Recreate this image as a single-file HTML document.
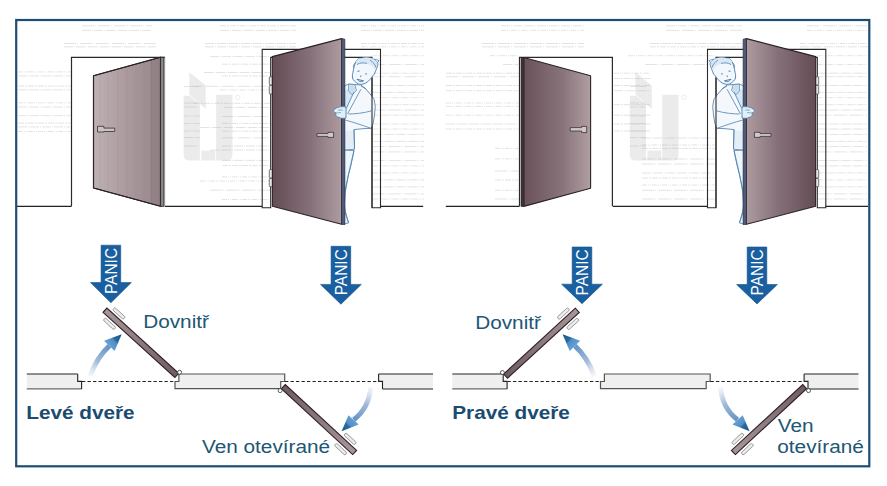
<!DOCTYPE html>
<html><head><meta charset="utf-8"><title>Panic doors</title>
<style>html,body{margin:0;padding:0;background:#fff;width:887px;height:486px;overflow:hidden;font-family:"Liberation Sans",sans-serif}svg{display:block}</style>
</head><body>
<svg width="887" height="486" viewBox="0 0 887 486">
<defs>
<linearGradient id="d1" x1="0" x2="1" y1="0" y2="0">
 <stop offset="0" stop-color="#beb1b3"/><stop offset="0.5" stop-color="#ab9a9d"/><stop offset="1" stop-color="#978589"/>
</linearGradient>
<linearGradient id="dDarkL" x1="0" x2="1" y1="0" y2="0">
 <stop offset="0" stop-color="#654c55"/><stop offset="0.55" stop-color="#85707a"/><stop offset="1" stop-color="#ae9b9f"/>
</linearGradient>
<linearGradient id="dDarkR" x1="1" x2="0" y1="0" y2="0">
 <stop offset="0" stop-color="#654c55"/><stop offset="0.55" stop-color="#85707a"/><stop offset="1" stop-color="#ae9b9f"/>
</linearGradient>
<linearGradient id="d3" x1="0" x2="1" y1="0" y2="0">
 <stop offset="0" stop-color="#6a5159"/><stop offset="0.6" stop-color="#8a757c"/><stop offset="1" stop-color="#b09fa3"/>
</linearGradient>
<clipPath id="cp1"><polygon points="93.5,75.7 160.5,57.3 160.5,206.3 93.5,188"/></clipPath><linearGradient id="lf1" gradientUnits="userSpaceOnUse" x1="105" y1="310.2" x2="176.8" y2="375.4"><stop offset="0" stop-color="#a99699"/><stop offset="1" stop-color="#6f5b61"/></linearGradient><linearGradient id="lf2" gradientUnits="userSpaceOnUse" x1="354.6" y1="452.5" x2="283.3" y2="386.6"><stop offset="0" stop-color="#a99699"/><stop offset="1" stop-color="#6f5b61"/></linearGradient><linearGradient id="lf3" gradientUnits="userSpaceOnUse" x1="577.3" y1="310.3" x2="505.6" y2="376.2"><stop offset="0" stop-color="#a99699"/><stop offset="1" stop-color="#6f5b61"/></linearGradient><linearGradient id="lf4" gradientUnits="userSpaceOnUse" x1="733.4" y1="452.5" x2="804.7" y2="386.6"><stop offset="0" stop-color="#a99699"/><stop offset="1" stop-color="#6f5b61"/></linearGradient><linearGradient id="ca5" gradientUnits="userSpaceOnUse" x1="90" y1="376" x2="109.4" y2="345.8"><stop offset="0" stop-color="#c9d6e6" stop-opacity="0.2"/><stop offset="0.45" stop-color="#a3bcd8"/><stop offset="1" stop-color="#6393c4"/></linearGradient><linearGradient id="ch5" gradientUnits="userSpaceOnUse" x1="109.4" y1="345.8" x2="121.7" y2="334.3"><stop offset="0" stop-color="#64a0d4"/><stop offset="0.4" stop-color="#4f8ec6"/><stop offset="0.5" stop-color="#2b6a9e"/><stop offset="1" stop-color="#1a5588"/></linearGradient><linearGradient id="ca6" gradientUnits="userSpaceOnUse" x1="370.7" y1="387.4" x2="353.7" y2="419.8"><stop offset="0" stop-color="#c9d6e6" stop-opacity="0.2"/><stop offset="0.45" stop-color="#a3bcd8"/><stop offset="1" stop-color="#6393c4"/></linearGradient><linearGradient id="ch6" gradientUnits="userSpaceOnUse" x1="353.7" y1="419.8" x2="341.6" y2="431.2"><stop offset="0" stop-color="#64a0d4"/><stop offset="0.4" stop-color="#4f8ec6"/><stop offset="0.5" stop-color="#2b6a9e"/><stop offset="1" stop-color="#1a5588"/></linearGradient><linearGradient id="ca7" gradientUnits="userSpaceOnUse" x1="594.3" y1="376" x2="574.9" y2="345.8"><stop offset="0" stop-color="#c9d6e6" stop-opacity="0.2"/><stop offset="0.45" stop-color="#a3bcd8"/><stop offset="1" stop-color="#6393c4"/></linearGradient><linearGradient id="ch7" gradientUnits="userSpaceOnUse" x1="574.9" y1="345.8" x2="562.6" y2="334.3"><stop offset="0" stop-color="#64a0d4"/><stop offset="0.4" stop-color="#4f8ec6"/><stop offset="0.5" stop-color="#2b6a9e"/><stop offset="1" stop-color="#1a5588"/></linearGradient><linearGradient id="ca8" gradientUnits="userSpaceOnUse" x1="720.5" y1="387.4" x2="737.5" y2="419.8"><stop offset="0" stop-color="#c9d6e6" stop-opacity="0.2"/><stop offset="0.45" stop-color="#a3bcd8"/><stop offset="1" stop-color="#6393c4"/></linearGradient><linearGradient id="ch8" gradientUnits="userSpaceOnUse" x1="737.5" y1="419.8" x2="749.6" y2="431.2"><stop offset="0" stop-color="#64a0d4"/><stop offset="0.4" stop-color="#4f8ec6"/><stop offset="0.5" stop-color="#2b6a9e"/><stop offset="1" stop-color="#1a5588"/></linearGradient></defs>
<rect width="887" height="486" fill="#fff"/>
<g><polygon points="189.3,72.2 205.7,85.5 205.7,109.1 189.3,94.8" fill="#ebebeb"/><path d="M183.7,95.8 H199.9 V160.5 H189.2 Q183.7,160.5 183.7,155 Z" fill="#ebebeb"/><rect x="201.3" y="150.6" width="13.9" height="9.9" fill="#ebebeb"/><path d="M216.1,94.8 H232.4 V155 Q232.4,160.5 226.9,160.5 H216.1 Z" fill="#ebebeb"/><line x1="189.3" y1="94.6" x2="205.7" y2="109.3" stroke="#fff" stroke-width="0.8"/><circle cx="237.8" cy="97.4" r="2.2" fill="none" stroke="#e2e2e2" stroke-width="0.6"/><polygon points="635.4,72.2 651.8,85.5 651.8,109.1 635.4,94.8" fill="#ebebeb"/><path d="M629.8,95.8 H646 V160.5 H635.3 Q629.8,160.5 629.8,155 Z" fill="#ebebeb"/><rect x="647.4" y="150.6" width="13.9" height="9.9" fill="#ebebeb"/><path d="M662.2,94.8 H678.5 V155 Q678.5,160.5 673,160.5 H662.2 Z" fill="#ebebeb"/><line x1="635.4" y1="94.6" x2="651.8" y2="109.3" stroke="#fff" stroke-width="0.8"/><circle cx="683.9" cy="97.4" r="2.2" fill="none" stroke="#e2e2e2" stroke-width="0.6"/></g>
<g><line x1="82" y1="25.8" x2="152" y2="25.8" stroke="#b0b0b0" stroke-opacity="0.45" stroke-width="0.8" stroke-dasharray="12 1 1 2"/><line x1="220" y1="25.8" x2="296" y2="25.8" stroke="#b0b0b0" stroke-opacity="0.45" stroke-width="0.8" stroke-dasharray="6 1 2 1"/><line x1="361" y1="25.8" x2="424" y2="25.8" stroke="#b0b0b0" stroke-opacity="0.45" stroke-width="0.8" stroke-dasharray="5 1 1 1 1 1"/><line x1="82" y1="30.4" x2="152" y2="30.4" stroke="#b0b0b0" stroke-opacity="0.45" stroke-width="0.8" stroke-dasharray="9 1 1 1"/><line x1="220" y1="30.4" x2="296" y2="30.4" stroke="#b0b0b0" stroke-opacity="0.45" stroke-width="0.8" stroke-dasharray="9 1 1 1"/><line x1="361" y1="30.4" x2="424" y2="30.4" stroke="#b0b0b0" stroke-opacity="0.45" stroke-width="0.8" stroke-dasharray="9 1 1 1"/><line x1="64" y1="43.5" x2="156" y2="43.5" stroke="#b0b0b0" stroke-opacity="0.45" stroke-width="0.8" stroke-dasharray="12 1 1 2"/><line x1="205" y1="43.5" x2="296" y2="43.5" stroke="#b0b0b0" stroke-opacity="0.45" stroke-width="0.8" stroke-dasharray="9 1 1 1"/><line x1="361" y1="43.5" x2="424" y2="43.5" stroke="#b0b0b0" stroke-opacity="0.45" stroke-width="0.8" stroke-dasharray="6 1 2 1"/><line x1="64" y1="46.8" x2="156" y2="46.8" stroke="#b0b0b0" stroke-opacity="0.45" stroke-width="0.8" stroke-dasharray="9 1 1 1"/><line x1="205" y1="46.8" x2="296" y2="46.8" stroke="#b0b0b0" stroke-opacity="0.45" stroke-width="0.8" stroke-dasharray="9 1 1 1"/><line x1="361" y1="46.8" x2="424" y2="46.8" stroke="#b0b0b0" stroke-opacity="0.45" stroke-width="0.8" stroke-dasharray="5 1 1 1 1 1"/><line x1="18" y1="71.9" x2="70.5" y2="71.9" stroke="#b0b0b0" stroke-opacity="0.45" stroke-width="0.8" stroke-dasharray="5 1 1 1 1 1"/><line x1="18" y1="75.9" x2="70.5" y2="75.9" stroke="#b0b0b0" stroke-opacity="0.45" stroke-width="0.8" stroke-dasharray="9 1 1 1"/><line x1="18" y1="86.1" x2="70.5" y2="86.1" stroke="#b0b0b0" stroke-opacity="0.45" stroke-width="0.8" stroke-dasharray="6 1 2 1"/><line x1="18" y1="89.8" x2="70.5" y2="89.8" stroke="#b0b0b0" stroke-opacity="0.45" stroke-width="0.8" stroke-dasharray="9 1 1 1"/><line x1="18" y1="102.8" x2="70.5" y2="102.8" stroke="#b0b0b0" stroke-opacity="0.45" stroke-width="0.8" stroke-dasharray="5 1 1 1 1 1"/><line x1="18" y1="107" x2="70.5" y2="107" stroke="#b0b0b0" stroke-opacity="0.45" stroke-width="0.8" stroke-dasharray="9 1 1 1"/><line x1="18" y1="115.7" x2="70.5" y2="115.7" stroke="#b0b0b0" stroke-opacity="0.45" stroke-width="0.8" stroke-dasharray="9 1 1 1"/><line x1="18" y1="123.1" x2="70.5" y2="123.1" stroke="#b0b0b0" stroke-opacity="0.45" stroke-width="0.8" stroke-dasharray="6 1 2 1"/><line x1="18" y1="126.9" x2="70.5" y2="126.9" stroke="#b0b0b0" stroke-opacity="0.45" stroke-width="0.8" stroke-dasharray="9 1 1 1"/><line x1="18" y1="131.5" x2="70.5" y2="131.5" stroke="#b0b0b0" stroke-opacity="0.45" stroke-width="0.8" stroke-dasharray="5 1 1 1 1 1"/><line x1="210" y1="56.6" x2="270" y2="56.6" stroke="#b0b0b0" stroke-opacity="0.45" stroke-width="0.8" stroke-dasharray="9 1 1 1"/><line x1="222" y1="64.2" x2="270" y2="64.2" stroke="#b0b0b0" stroke-opacity="0.45" stroke-width="0.8" stroke-dasharray="6 1 2 1"/><line x1="204" y1="72.5" x2="270" y2="72.5" stroke="#b0b0b0" stroke-opacity="0.45" stroke-width="0.8" stroke-dasharray="9 1 1 1"/><line x1="222" y1="76" x2="270" y2="76" stroke="#b0b0b0" stroke-opacity="0.45" stroke-width="0.8" stroke-dasharray="6 1 2 1"/><line x1="190" y1="86.3" x2="270" y2="86.3" stroke="#b0b0b0" stroke-opacity="0.45" stroke-width="0.8" stroke-dasharray="12 1 1 2"/><line x1="220" y1="90" x2="270" y2="90" stroke="#b0b0b0" stroke-opacity="0.45" stroke-width="0.8" stroke-dasharray="5 1 1 1 1 1"/><line x1="194" y1="103.3" x2="270" y2="103.3" stroke="#b0b0b0" stroke-opacity="0.45" stroke-width="0.8" stroke-dasharray="6 1 2 1"/><line x1="224" y1="107.4" x2="270" y2="107.4" stroke="#b0b0b0" stroke-opacity="0.45" stroke-width="0.8" stroke-dasharray="9 1 1 1"/><line x1="222" y1="116.5" x2="270" y2="116.5" stroke="#b0b0b0" stroke-opacity="0.45" stroke-width="0.8" stroke-dasharray="12 1 1 2"/><line x1="222" y1="123.4" x2="270" y2="123.4" stroke="#b0b0b0" stroke-opacity="0.45" stroke-width="0.8" stroke-dasharray="6 1 2 1"/><line x1="200" y1="127.5" x2="270" y2="127.5" stroke="#b0b0b0" stroke-opacity="0.45" stroke-width="0.8" stroke-dasharray="9 1 1 1"/><line x1="222" y1="131.2" x2="270" y2="131.2" stroke="#b0b0b0" stroke-opacity="0.45" stroke-width="0.8" stroke-dasharray="6 1 2 1"/><line x1="222" y1="137.8" x2="270" y2="137.8" stroke="#b0b0b0" stroke-opacity="0.45" stroke-width="0.8" stroke-dasharray="12 1 1 2"/><line x1="222" y1="146" x2="270" y2="146" stroke="#b0b0b0" stroke-opacity="0.45" stroke-width="0.8" stroke-dasharray="9 1 1 1"/><line x1="210" y1="150.1" x2="270" y2="150.1" stroke="#b0b0b0" stroke-opacity="0.45" stroke-width="0.8" stroke-dasharray="9 1 1 1"/><line x1="222" y1="160.4" x2="270" y2="160.4" stroke="#b0b0b0" stroke-opacity="0.45" stroke-width="0.8" stroke-dasharray="9 1 1 1"/><line x1="222" y1="165.6" x2="270" y2="165.6" stroke="#b0b0b0" stroke-opacity="0.45" stroke-width="0.8" stroke-dasharray="6 1 2 1"/><line x1="222" y1="176.9" x2="270" y2="176.9" stroke="#b0b0b0" stroke-opacity="0.45" stroke-width="0.8" stroke-dasharray="5 1 1 1 1 1"/><line x1="200" y1="181" x2="270" y2="181" stroke="#b0b0b0" stroke-opacity="0.45" stroke-width="0.8" stroke-dasharray="5 1 1 1 1 1"/><line x1="210" y1="190.2" x2="270" y2="190.2" stroke="#b0b0b0" stroke-opacity="0.45" stroke-width="0.8" stroke-dasharray="12 1 1 2"/><line x1="222" y1="199.5" x2="270" y2="199.5" stroke="#b0b0b0" stroke-opacity="0.45" stroke-width="0.8" stroke-dasharray="5 1 1 1 1 1"/><line x1="184" y1="86.5" x2="200" y2="86.5" stroke="#b0b0b0" stroke-opacity="0.45" stroke-width="0.8" stroke-dasharray="5 1 1 1 1 1"/><line x1="184" y1="103" x2="200" y2="103" stroke="#b0b0b0" stroke-opacity="0.45" stroke-width="0.8" stroke-dasharray="12 1 1 2"/><line x1="184" y1="107" x2="200" y2="107" stroke="#b0b0b0" stroke-opacity="0.45" stroke-width="0.8" stroke-dasharray="12 1 1 2"/><line x1="184" y1="116" x2="200" y2="116" stroke="#b0b0b0" stroke-opacity="0.45" stroke-width="0.8" stroke-dasharray="6 1 2 1"/><line x1="184" y1="123.5" x2="200" y2="123.5" stroke="#b0b0b0" stroke-opacity="0.45" stroke-width="0.8" stroke-dasharray="6 1 2 1"/><line x1="184" y1="131" x2="200" y2="131" stroke="#b0b0b0" stroke-opacity="0.45" stroke-width="0.8" stroke-dasharray="6 1 2 1"/><line x1="184" y1="137.5" x2="200" y2="137.5" stroke="#b0b0b0" stroke-opacity="0.45" stroke-width="0.8" stroke-dasharray="9 1 1 1"/><line x1="184" y1="146" x2="200" y2="146" stroke="#b0b0b0" stroke-opacity="0.45" stroke-width="0.8" stroke-dasharray="12 1 1 2"/><line x1="372.5" y1="55.7" x2="424" y2="55.7" stroke="#b0b0b0" stroke-opacity="0.45" stroke-width="0.8" stroke-dasharray="5 1 1 1 1 1"/><line x1="372.5" y1="64.5" x2="424" y2="64.5" stroke="#b0b0b0" stroke-opacity="0.45" stroke-width="0.8" stroke-dasharray="12 1 1 2"/><line x1="372.5" y1="73.2" x2="424" y2="73.2" stroke="#b0b0b0" stroke-opacity="0.45" stroke-width="0.8" stroke-dasharray="5 1 1 1 1 1"/><line x1="372.5" y1="76.7" x2="424" y2="76.7" stroke="#b0b0b0" stroke-opacity="0.45" stroke-width="0.8" stroke-dasharray="12 1 1 2"/><line x1="372.5" y1="85.5" x2="424" y2="85.5" stroke="#b0b0b0" stroke-opacity="0.45" stroke-width="0.8" stroke-dasharray="9 1 1 1"/><line x1="372.5" y1="92.4" x2="424" y2="92.4" stroke="#b0b0b0" stroke-opacity="0.45" stroke-width="0.8" stroke-dasharray="9 1 1 1"/><line x1="372.5" y1="97.7" x2="424" y2="97.7" stroke="#b0b0b0" stroke-opacity="0.45" stroke-width="0.8" stroke-dasharray="5 1 1 1 1 1"/><line x1="372.5" y1="104.7" x2="424" y2="104.7" stroke="#b0b0b0" stroke-opacity="0.45" stroke-width="0.8" stroke-dasharray="6 1 2 1"/><line x1="372.5" y1="110" x2="424" y2="110" stroke="#b0b0b0" stroke-opacity="0.45" stroke-width="0.8" stroke-dasharray="12 1 1 2"/><line x1="372.5" y1="115.2" x2="424" y2="115.2" stroke="#b0b0b0" stroke-opacity="0.45" stroke-width="0.8" stroke-dasharray="6 1 2 1"/><line x1="372.5" y1="124" x2="424" y2="124" stroke="#b0b0b0" stroke-opacity="0.45" stroke-width="0.8" stroke-dasharray="5 1 1 1 1 1"/><line x1="372.5" y1="129" x2="424" y2="129" stroke="#b0b0b0" stroke-opacity="0.45" stroke-width="0.8" stroke-dasharray="5 1 1 1 1 1"/><line x1="372.5" y1="134.4" x2="424" y2="134.4" stroke="#b0b0b0" stroke-opacity="0.45" stroke-width="0.8" stroke-dasharray="9 1 1 1"/><line x1="372.5" y1="141.4" x2="424" y2="141.4" stroke="#b0b0b0" stroke-opacity="0.45" stroke-width="0.8" stroke-dasharray="9 1 1 1"/><line x1="372.5" y1="146.6" x2="424" y2="146.6" stroke="#b0b0b0" stroke-opacity="0.45" stroke-width="0.8" stroke-dasharray="12 1 1 2"/><line x1="372.5" y1="151.9" x2="424" y2="151.9" stroke="#b0b0b0" stroke-opacity="0.45" stroke-width="0.8" stroke-dasharray="12 1 1 2"/><line x1="372.5" y1="160.6" x2="424" y2="160.6" stroke="#b0b0b0" stroke-opacity="0.45" stroke-width="0.8" stroke-dasharray="12 1 1 2"/><line x1="372.5" y1="165.9" x2="424" y2="165.9" stroke="#b0b0b0" stroke-opacity="0.45" stroke-width="0.8" stroke-dasharray="5 1 1 1 1 1"/><line x1="372.5" y1="172.9" x2="424" y2="172.9" stroke="#b0b0b0" stroke-opacity="0.45" stroke-width="0.8" stroke-dasharray="5 1 1 1 1 1"/><line x1="372.5" y1="179.9" x2="424" y2="179.9" stroke="#b0b0b0" stroke-opacity="0.45" stroke-width="0.8" stroke-dasharray="9 1 1 1"/><line x1="372.5" y1="186.9" x2="424" y2="186.9" stroke="#b0b0b0" stroke-opacity="0.45" stroke-width="0.8" stroke-dasharray="9 1 1 1"/><line x1="372.5" y1="193.9" x2="424" y2="193.9" stroke="#b0b0b0" stroke-opacity="0.45" stroke-width="0.8" stroke-dasharray="12 1 1 2"/><line x1="372.5" y1="199" x2="424" y2="199" stroke="#b0b0b0" stroke-opacity="0.45" stroke-width="0.8" stroke-dasharray="5 1 1 1 1 1"/><line x1="501" y1="25.8" x2="584" y2="25.8" stroke="#b0b0b0" stroke-opacity="0.45" stroke-width="0.8" stroke-dasharray="9 1 1 1"/><line x1="666" y1="25.8" x2="742" y2="25.8" stroke="#b0b0b0" stroke-opacity="0.45" stroke-width="0.8" stroke-dasharray="9 1 1 1"/><line x1="807" y1="25.8" x2="868" y2="25.8" stroke="#b0b0b0" stroke-opacity="0.45" stroke-width="0.8" stroke-dasharray="12 1 1 2"/><line x1="501" y1="30.4" x2="584" y2="30.4" stroke="#b0b0b0" stroke-opacity="0.45" stroke-width="0.8" stroke-dasharray="5 1 1 1 1 1"/><line x1="666" y1="30.4" x2="742" y2="30.4" stroke="#b0b0b0" stroke-opacity="0.45" stroke-width="0.8" stroke-dasharray="12 1 1 2"/><line x1="807" y1="30.4" x2="868" y2="30.4" stroke="#b0b0b0" stroke-opacity="0.45" stroke-width="0.8" stroke-dasharray="5 1 1 1 1 1"/><line x1="482" y1="43.5" x2="584" y2="43.5" stroke="#b0b0b0" stroke-opacity="0.45" stroke-width="0.8" stroke-dasharray="12 1 1 2"/><line x1="650" y1="43.5" x2="742" y2="43.5" stroke="#b0b0b0" stroke-opacity="0.45" stroke-width="0.8" stroke-dasharray="9 1 1 1"/><line x1="800" y1="43.5" x2="868" y2="43.5" stroke="#b0b0b0" stroke-opacity="0.45" stroke-width="0.8" stroke-dasharray="5 1 1 1 1 1"/><line x1="482" y1="46.8" x2="584" y2="46.8" stroke="#b0b0b0" stroke-opacity="0.45" stroke-width="0.8" stroke-dasharray="12 1 1 2"/><line x1="650" y1="46.8" x2="742" y2="46.8" stroke="#b0b0b0" stroke-opacity="0.45" stroke-width="0.8" stroke-dasharray="6 1 2 1"/><line x1="800" y1="46.8" x2="868" y2="46.8" stroke="#b0b0b0" stroke-opacity="0.45" stroke-width="0.8" stroke-dasharray="9 1 1 1"/><line x1="490" y1="55.7" x2="518.5" y2="55.7" stroke="#b0b0b0" stroke-opacity="0.45" stroke-width="0.8" stroke-dasharray="5 1 1 1 1 1"/><line x1="503" y1="64.5" x2="518.5" y2="64.5" stroke="#b0b0b0" stroke-opacity="0.45" stroke-width="0.8" stroke-dasharray="9 1 1 1"/><line x1="446" y1="73.2" x2="518.5" y2="73.2" stroke="#b0b0b0" stroke-opacity="0.45" stroke-width="0.8" stroke-dasharray="6 1 2 1"/><line x1="446" y1="76.7" x2="518.5" y2="76.7" stroke="#b0b0b0" stroke-opacity="0.45" stroke-width="0.8" stroke-dasharray="12 1 1 2"/><line x1="446" y1="85.5" x2="518.5" y2="85.5" stroke="#b0b0b0" stroke-opacity="0.45" stroke-width="0.8" stroke-dasharray="6 1 2 1"/><line x1="446" y1="90.7" x2="518.5" y2="90.7" stroke="#b0b0b0" stroke-opacity="0.45" stroke-width="0.8" stroke-dasharray="6 1 2 1"/><line x1="446" y1="103" x2="518.5" y2="103" stroke="#b0b0b0" stroke-opacity="0.45" stroke-width="0.8" stroke-dasharray="5 1 1 1 1 1"/><line x1="446" y1="106.4" x2="518.5" y2="106.4" stroke="#b0b0b0" stroke-opacity="0.45" stroke-width="0.8" stroke-dasharray="5 1 1 1 1 1"/><line x1="446" y1="115.2" x2="518.5" y2="115.2" stroke="#b0b0b0" stroke-opacity="0.45" stroke-width="0.8" stroke-dasharray="5 1 1 1 1 1"/><line x1="446" y1="124" x2="518.5" y2="124" stroke="#b0b0b0" stroke-opacity="0.45" stroke-width="0.8" stroke-dasharray="9 1 1 1"/><line x1="446" y1="129" x2="518.5" y2="129" stroke="#b0b0b0" stroke-opacity="0.45" stroke-width="0.8" stroke-dasharray="6 1 2 1"/><line x1="495" y1="148.4" x2="518.5" y2="148.4" stroke="#b0b0b0" stroke-opacity="0.45" stroke-width="0.8" stroke-dasharray="5 1 1 1 1 1"/><line x1="495" y1="158.9" x2="518.5" y2="158.9" stroke="#b0b0b0" stroke-opacity="0.45" stroke-width="0.8" stroke-dasharray="5 1 1 1 1 1"/><line x1="495" y1="171" x2="518.5" y2="171" stroke="#b0b0b0" stroke-opacity="0.45" stroke-width="0.8" stroke-dasharray="12 1 1 2"/><line x1="495" y1="180" x2="518.5" y2="180" stroke="#b0b0b0" stroke-opacity="0.45" stroke-width="0.8" stroke-dasharray="6 1 2 1"/><line x1="495" y1="190.3" x2="518.5" y2="190.3" stroke="#b0b0b0" stroke-opacity="0.45" stroke-width="0.8" stroke-dasharray="5 1 1 1 1 1"/><line x1="495" y1="199" x2="518.5" y2="199" stroke="#b0b0b0" stroke-opacity="0.45" stroke-width="0.8" stroke-dasharray="12 1 1 2"/><line x1="628" y1="55.7" x2="715" y2="55.7" stroke="#b0b0b0" stroke-opacity="0.45" stroke-width="0.8" stroke-dasharray="5 1 1 1 1 1"/><line x1="645" y1="64.5" x2="715" y2="64.5" stroke="#b0b0b0" stroke-opacity="0.45" stroke-width="0.8" stroke-dasharray="12 1 1 2"/><line x1="614" y1="73.2" x2="650" y2="73.2" stroke="#b0b0b0" stroke-opacity="0.45" stroke-width="0.8" stroke-dasharray="5 1 1 1 1 1"/><line x1="614" y1="78.5" x2="650" y2="78.5" stroke="#b0b0b0" stroke-opacity="0.45" stroke-width="0.8" stroke-dasharray="6 1 2 1"/><line x1="614" y1="85.5" x2="650" y2="85.5" stroke="#b0b0b0" stroke-opacity="0.45" stroke-width="0.8" stroke-dasharray="6 1 2 1"/><line x1="614" y1="90.7" x2="650" y2="90.7" stroke="#b0b0b0" stroke-opacity="0.45" stroke-width="0.8" stroke-dasharray="9 1 1 1"/><line x1="614" y1="104.7" x2="650" y2="104.7" stroke="#b0b0b0" stroke-opacity="0.45" stroke-width="0.8" stroke-dasharray="6 1 2 1"/><line x1="614" y1="115.2" x2="650" y2="115.2" stroke="#b0b0b0" stroke-opacity="0.45" stroke-width="0.8" stroke-dasharray="6 1 2 1"/><line x1="614" y1="124" x2="650" y2="124" stroke="#b0b0b0" stroke-opacity="0.45" stroke-width="0.8" stroke-dasharray="6 1 2 1"/><line x1="614" y1="131" x2="650" y2="131" stroke="#b0b0b0" stroke-opacity="0.45" stroke-width="0.8" stroke-dasharray="6 1 2 1"/><line x1="642" y1="138" x2="715" y2="138" stroke="#b0b0b0" stroke-opacity="0.45" stroke-width="0.8" stroke-dasharray="9 1 1 1"/><line x1="642" y1="145" x2="715" y2="145" stroke="#b0b0b0" stroke-opacity="0.45" stroke-width="0.8" stroke-dasharray="5 1 1 1 1 1"/><line x1="642" y1="148.4" x2="715" y2="148.4" stroke="#b0b0b0" stroke-opacity="0.45" stroke-width="0.8" stroke-dasharray="6 1 2 1"/><line x1="642" y1="159" x2="715" y2="159" stroke="#b0b0b0" stroke-opacity="0.45" stroke-width="0.8" stroke-dasharray="12 1 1 2"/><line x1="642" y1="164" x2="715" y2="164" stroke="#b0b0b0" stroke-opacity="0.45" stroke-width="0.8" stroke-dasharray="12 1 1 2"/><line x1="642" y1="173" x2="715" y2="173" stroke="#b0b0b0" stroke-opacity="0.45" stroke-width="0.8" stroke-dasharray="9 1 1 1"/><line x1="642" y1="178" x2="715" y2="178" stroke="#b0b0b0" stroke-opacity="0.45" stroke-width="0.8" stroke-dasharray="6 1 2 1"/><line x1="642" y1="185" x2="715" y2="185" stroke="#b0b0b0" stroke-opacity="0.45" stroke-width="0.8" stroke-dasharray="5 1 1 1 1 1"/><line x1="642" y1="190.3" x2="715" y2="190.3" stroke="#b0b0b0" stroke-opacity="0.45" stroke-width="0.8" stroke-dasharray="12 1 1 2"/><line x1="642" y1="199" x2="715" y2="199" stroke="#b0b0b0" stroke-opacity="0.45" stroke-width="0.8" stroke-dasharray="12 1 1 2"/><line x1="630" y1="86.5" x2="646" y2="86.5" stroke="#b0b0b0" stroke-opacity="0.45" stroke-width="0.8" stroke-dasharray="6 1 2 1"/><line x1="630" y1="103" x2="646" y2="103" stroke="#b0b0b0" stroke-opacity="0.45" stroke-width="0.8" stroke-dasharray="9 1 1 1"/><line x1="630" y1="107" x2="646" y2="107" stroke="#b0b0b0" stroke-opacity="0.45" stroke-width="0.8" stroke-dasharray="5 1 1 1 1 1"/><line x1="630" y1="116" x2="646" y2="116" stroke="#b0b0b0" stroke-opacity="0.45" stroke-width="0.8" stroke-dasharray="5 1 1 1 1 1"/><line x1="630" y1="123.5" x2="646" y2="123.5" stroke="#b0b0b0" stroke-opacity="0.45" stroke-width="0.8" stroke-dasharray="5 1 1 1 1 1"/><line x1="630" y1="131" x2="646" y2="131" stroke="#b0b0b0" stroke-opacity="0.45" stroke-width="0.8" stroke-dasharray="5 1 1 1 1 1"/><line x1="630" y1="137.5" x2="646" y2="137.5" stroke="#b0b0b0" stroke-opacity="0.45" stroke-width="0.8" stroke-dasharray="5 1 1 1 1 1"/><line x1="630" y1="146" x2="646" y2="146" stroke="#b0b0b0" stroke-opacity="0.45" stroke-width="0.8" stroke-dasharray="9 1 1 1"/><line x1="817.5" y1="55.7" x2="867" y2="55.7" stroke="#b0b0b0" stroke-opacity="0.45" stroke-width="0.8" stroke-dasharray="5 1 1 1 1 1"/><line x1="817.5" y1="64.5" x2="867" y2="64.5" stroke="#b0b0b0" stroke-opacity="0.45" stroke-width="0.8" stroke-dasharray="5 1 1 1 1 1"/><line x1="817.5" y1="73.2" x2="867" y2="73.2" stroke="#b0b0b0" stroke-opacity="0.45" stroke-width="0.8" stroke-dasharray="9 1 1 1"/><line x1="817.5" y1="76.7" x2="867" y2="76.7" stroke="#b0b0b0" stroke-opacity="0.45" stroke-width="0.8" stroke-dasharray="6 1 2 1"/><line x1="817.5" y1="85.5" x2="867" y2="85.5" stroke="#b0b0b0" stroke-opacity="0.45" stroke-width="0.8" stroke-dasharray="9 1 1 1"/><line x1="817.5" y1="92.4" x2="867" y2="92.4" stroke="#b0b0b0" stroke-opacity="0.45" stroke-width="0.8" stroke-dasharray="6 1 2 1"/><line x1="817.5" y1="97.7" x2="867" y2="97.7" stroke="#b0b0b0" stroke-opacity="0.45" stroke-width="0.8" stroke-dasharray="5 1 1 1 1 1"/><line x1="817.5" y1="104.7" x2="867" y2="104.7" stroke="#b0b0b0" stroke-opacity="0.45" stroke-width="0.8" stroke-dasharray="6 1 2 1"/><line x1="817.5" y1="110" x2="867" y2="110" stroke="#b0b0b0" stroke-opacity="0.45" stroke-width="0.8" stroke-dasharray="9 1 1 1"/><line x1="817.5" y1="115.2" x2="867" y2="115.2" stroke="#b0b0b0" stroke-opacity="0.45" stroke-width="0.8" stroke-dasharray="12 1 1 2"/><line x1="817.5" y1="124" x2="867" y2="124" stroke="#b0b0b0" stroke-opacity="0.45" stroke-width="0.8" stroke-dasharray="9 1 1 1"/><line x1="817.5" y1="129" x2="867" y2="129" stroke="#b0b0b0" stroke-opacity="0.45" stroke-width="0.8" stroke-dasharray="9 1 1 1"/><line x1="817.5" y1="134.4" x2="867" y2="134.4" stroke="#b0b0b0" stroke-opacity="0.45" stroke-width="0.8" stroke-dasharray="9 1 1 1"/><line x1="817.5" y1="141.4" x2="867" y2="141.4" stroke="#b0b0b0" stroke-opacity="0.45" stroke-width="0.8" stroke-dasharray="6 1 2 1"/><line x1="817.5" y1="146.6" x2="867" y2="146.6" stroke="#b0b0b0" stroke-opacity="0.45" stroke-width="0.8" stroke-dasharray="9 1 1 1"/><line x1="817.5" y1="151.9" x2="867" y2="151.9" stroke="#b0b0b0" stroke-opacity="0.45" stroke-width="0.8" stroke-dasharray="12 1 1 2"/><line x1="817.5" y1="160.6" x2="867" y2="160.6" stroke="#b0b0b0" stroke-opacity="0.45" stroke-width="0.8" stroke-dasharray="9 1 1 1"/><line x1="817.5" y1="165.9" x2="867" y2="165.9" stroke="#b0b0b0" stroke-opacity="0.45" stroke-width="0.8" stroke-dasharray="9 1 1 1"/><line x1="817.5" y1="172.9" x2="867" y2="172.9" stroke="#b0b0b0" stroke-opacity="0.45" stroke-width="0.8" stroke-dasharray="6 1 2 1"/><line x1="817.5" y1="179.9" x2="867" y2="179.9" stroke="#b0b0b0" stroke-opacity="0.45" stroke-width="0.8" stroke-dasharray="5 1 1 1 1 1"/><line x1="817.5" y1="186.9" x2="867" y2="186.9" stroke="#b0b0b0" stroke-opacity="0.45" stroke-width="0.8" stroke-dasharray="6 1 2 1"/><line x1="817.5" y1="193.9" x2="867" y2="193.9" stroke="#b0b0b0" stroke-opacity="0.45" stroke-width="0.8" stroke-dasharray="12 1 1 2"/><line x1="817.5" y1="199" x2="867" y2="199" stroke="#b0b0b0" stroke-opacity="0.45" stroke-width="0.8" stroke-dasharray="12 1 1 2"/></g>
<line x1="17" y1="206.3" x2="71.5" y2="206.3" stroke="#222" stroke-width="1.3"/><line x1="165" y1="206.3" x2="262.2" y2="206.3" stroke="#222" stroke-width="1.3"/><line x1="380.5" y1="206.3" x2="423.2" y2="206.3" stroke="#222" stroke-width="1.3"/><line x1="445.8" y1="206.3" x2="519.5" y2="206.3" stroke="#222" stroke-width="1.3"/><line x1="612.9" y1="206.3" x2="707" y2="206.3" stroke="#222" stroke-width="1.3"/><line x1="825.5" y1="206.3" x2="868" y2="206.3" stroke="#222" stroke-width="1.3"/>
<rect x="72" y="57.8" width="93" height="148" fill="#fff"/><path d="M71.5,206.3 V57.3 H165" fill="none" stroke="#2a2a2a" stroke-width="1.2"/><polygon points="93.5,75.7 160.5,57.3 160.5,206.3 93.5,188" fill="url(#d1)" stroke="#2b2326" stroke-width="1.1" stroke-linejoin="round"/><g clip-path="url(#cp1)"><line x1="100" y1="50" x2="100" y2="210" stroke="#3a2a30" stroke-opacity="0.05" stroke-width="0.9"/><line x1="108" y1="50" x2="108" y2="210" stroke="#3a2a30" stroke-opacity="0.04" stroke-width="0.9"/><line x1="118" y1="50" x2="118" y2="210" stroke="#3a2a30" stroke-opacity="0.05" stroke-width="0.9"/><line x1="127" y1="50" x2="127" y2="210" stroke="#3a2a30" stroke-opacity="0.06" stroke-width="0.9"/><line x1="136" y1="50" x2="136" y2="210" stroke="#3a2a30" stroke-opacity="0.05" stroke-width="0.9"/><line x1="144" y1="50" x2="144" y2="210" stroke="#3a2a30" stroke-opacity="0.06" stroke-width="0.9"/><line x1="151.4" y1="50" x2="151.4" y2="210" stroke="#3a2a30" stroke-opacity="0.2" stroke-width="0.9"/><rect x="152" y="50" width="8.5" height="160" fill="#7c6a72" fill-opacity="0.25"/></g><polygon points="93.5,75.7 160.5,57.3 160.5,206.3 93.5,188" fill="none" stroke="#2b2326" stroke-width="1.1" stroke-linejoin="round"/><rect x="160.6" y="57.3" width="3.3" height="149" fill="#8c878a" stroke="#2e2a2c" stroke-width="0.9"/><line x1="164.7" y1="57.5" x2="164.7" y2="206.3" stroke="#8a8a8a" stroke-width="0.8"/><path d="M97.5,126.3 H103.9 V128.1 H114.7 V131.5 H103.9 V132 H97.5 Z" fill="#c9c1c3" stroke="#3a3033" stroke-width="0.8"/><g><rect x="270.7" y="57.4" width="101.3" height="150.3" fill="#fff"/><path d="M262.2,207.7 V49.4 H380.5 V207.7 H372 V57.4 H270.7 V207.7 Z" fill="none" stroke="#2a2a2a" stroke-width="1.1"/><path d="M344,86 L349,84 L361,85 L366,89 L371.2,95.4 L374.2,99.5 L375.3,106.7 L374.5,115 L373.2,123.2 L371.2,128.4 L365,128.5 L354,129.6 L354.5,149.2 L344,150.2 Z" fill="#f4f8fc" stroke="#4f80b0" stroke-width="0.85" stroke-linejoin="round"/><path d="M344,150.2 L354,150.5 L351,165 L348.4,175 L345.5,191 L344.6,205 L345.5,212 L348.6,223 L344,224 Z" fill="#eef5fb" stroke="#4f80b0" stroke-width="0.8" stroke-linejoin="round"/><path d="M345,90 L350,88 L352,96 L347,110 L345,112 Z" fill="#d6e7f5"/><path d="M348.5,84.2 L355,84.6 L356.5,90.5 L352,95 L348.5,91 Z" fill="#c9def0" stroke="#4f80b0" stroke-width="0.6"/><path d="M345,131 L353,130.5 L353.5,148 L345,149 Z" fill="#e3eef8"/><path d="M355.7,62.2 C357,59 359,58 361.3,58.3 C364,57.3 368,57.3 370.6,58 C373,58.5 375.5,60 378,63.1 C377.5,67 376,70 374.3,74.2 C372.5,76 371.5,77.5 370.6,78.9 C368,81.5 366,83 365,83.5 C362,84.5 360,84.5 358.5,84 C355,82 353,80 352.5,78 C352.2,75 352.5,73 353,72.4 C353.5,68 354.5,65 355.7,62.2 Z" fill="#f2f7fc" stroke="#4f80b0" stroke-width="0.95"/><path d="M355.7,62.2 C357,59 359,58 361.3,58.3 C364,57.3 368,57.3 370.6,58 C373,58.5 375.5,60 378,63.1 C377,66 376,68 375,70 C373,66 370,64 366,63.5 C362,63 359,63.5 356.5,65 Z" fill="#d8e8f5" stroke="none"/><path d="M357,64.5 C360,62.5 364,62.5 367,63.5 M370,60 C373,62 375,64 376,67.5 M374,59 L379,60.5 L377,63.5 M353.5,68 C353,66 354,64 355.7,62.2" fill="none" stroke="#4f80b0" stroke-width="0.8"/><path d="M357.5,71.3 l2,-0.3 M365.2,73.9 l1.8,0.1 M361,75.5 l-0.5,1.5" fill="none" stroke="#3f6e9c" stroke-width="0.9"/><path d="M357,79.3 C359,81.8 361.5,82.2 363.5,80.8 Z" fill="#fff" stroke="#3f6e9c" stroke-width="0.9"/><path d="M360.9,89.3 L347.5,114 M354,92 L346.5,107.8 M371.2,110.9 C364,113 355,114 348.5,114 M371.2,128.4 C363,125.5 353,122 345.4,120.1 M354,129.6 L354.5,149.2 M361,86 L366,89" fill="none" stroke="#4f80b0" stroke-width="0.8"/><path d="M354,150.7 L348.4,175 L345,191 M345,212 L348.6,223" fill="none" stroke="#4f80b0" stroke-width="0.8"/><line x1="372" y1="78" x2="372" y2="207.7" stroke="#2a2a2a" stroke-width="1.1"/><rect x="269.3" y="76.8" width="3.2" height="8.2" rx="0.8" fill="#e4e4e4" stroke="#444" stroke-width="0.7"/><rect x="269.3" y="85.4" width="3.2" height="8.6" rx="0.8" fill="#e4e4e4" stroke="#444" stroke-width="0.7"/><rect x="269.3" y="169.6" width="3.2" height="8.4" rx="0.8" fill="#e4e4e4" stroke="#444" stroke-width="0.7"/><rect x="269.3" y="178.4" width="3.2" height="8.3" rx="0.8" fill="#e4e4e4" stroke="#444" stroke-width="0.7"/><polygon points="272.3,56.6 341.6,38.6 341.6,224.3 272.4,206.3" fill="url(#dDarkL)" stroke="#2b2326" stroke-width="1.1" stroke-linejoin="round"/><polygon points="341.6,38.6 344.8,39.2 344.8,224.6 341.6,224.3" fill="#525b78" stroke="#2e3346" stroke-width="0.8"/><path d="M333.6,132.3 H328 V133.6 H317 V136.4 H328 V137.4 H333.6 Z" fill="#cfc9cb" stroke="#3a3033" stroke-width="0.8"/></g><g transform="translate(1088,0) scale(-1,1)"><rect x="270.7" y="57.4" width="101.3" height="150.3" fill="#fff"/><path d="M262.2,207.7 V49.4 H380.5 V207.7 H372 V57.4 H270.7 V207.7 Z" fill="none" stroke="#2a2a2a" stroke-width="1.1"/><path d="M344,86 L349,84 L361,85 L366,89 L371.2,95.4 L374.2,99.5 L375.3,106.7 L374.5,115 L373.2,123.2 L371.2,128.4 L365,128.5 L354,129.6 L354.5,149.2 L344,150.2 Z" fill="#f4f8fc" stroke="#4f80b0" stroke-width="0.85" stroke-linejoin="round"/><path d="M344,150.2 L354,150.5 L351,165 L348.4,175 L345.5,191 L344.6,205 L345.5,212 L348.6,223 L344,224 Z" fill="#eef5fb" stroke="#4f80b0" stroke-width="0.8" stroke-linejoin="round"/><path d="M345,90 L350,88 L352,96 L347,110 L345,112 Z" fill="#d6e7f5"/><path d="M348.5,84.2 L355,84.6 L356.5,90.5 L352,95 L348.5,91 Z" fill="#c9def0" stroke="#4f80b0" stroke-width="0.6"/><path d="M345,131 L353,130.5 L353.5,148 L345,149 Z" fill="#e3eef8"/><path d="M355.7,62.2 C357,59 359,58 361.3,58.3 C364,57.3 368,57.3 370.6,58 C373,58.5 375.5,60 378,63.1 C377.5,67 376,70 374.3,74.2 C372.5,76 371.5,77.5 370.6,78.9 C368,81.5 366,83 365,83.5 C362,84.5 360,84.5 358.5,84 C355,82 353,80 352.5,78 C352.2,75 352.5,73 353,72.4 C353.5,68 354.5,65 355.7,62.2 Z" fill="#f2f7fc" stroke="#4f80b0" stroke-width="0.95"/><path d="M355.7,62.2 C357,59 359,58 361.3,58.3 C364,57.3 368,57.3 370.6,58 C373,58.5 375.5,60 378,63.1 C377,66 376,68 375,70 C373,66 370,64 366,63.5 C362,63 359,63.5 356.5,65 Z" fill="#d8e8f5" stroke="none"/><path d="M357,64.5 C360,62.5 364,62.5 367,63.5 M370,60 C373,62 375,64 376,67.5 M374,59 L379,60.5 L377,63.5 M353.5,68 C353,66 354,64 355.7,62.2" fill="none" stroke="#4f80b0" stroke-width="0.8"/><path d="M357.5,71.3 l2,-0.3 M365.2,73.9 l1.8,0.1 M361,75.5 l-0.5,1.5" fill="none" stroke="#3f6e9c" stroke-width="0.9"/><path d="M357,79.3 C359,81.8 361.5,82.2 363.5,80.8 Z" fill="#fff" stroke="#3f6e9c" stroke-width="0.9"/><path d="M360.9,89.3 L347.5,114 M354,92 L346.5,107.8 M371.2,110.9 C364,113 355,114 348.5,114 M371.2,128.4 C363,125.5 353,122 345.4,120.1 M354,129.6 L354.5,149.2 M361,86 L366,89" fill="none" stroke="#4f80b0" stroke-width="0.8"/><path d="M354,150.7 L348.4,175 L345,191 M345,212 L348.6,223" fill="none" stroke="#4f80b0" stroke-width="0.8"/><line x1="372" y1="78" x2="372" y2="207.7" stroke="#2a2a2a" stroke-width="1.1"/><rect x="269.3" y="76.8" width="3.2" height="8.2" rx="0.8" fill="#e4e4e4" stroke="#444" stroke-width="0.7"/><rect x="269.3" y="85.4" width="3.2" height="8.6" rx="0.8" fill="#e4e4e4" stroke="#444" stroke-width="0.7"/><rect x="269.3" y="169.6" width="3.2" height="8.4" rx="0.8" fill="#e4e4e4" stroke="#444" stroke-width="0.7"/><rect x="269.3" y="178.4" width="3.2" height="8.3" rx="0.8" fill="#e4e4e4" stroke="#444" stroke-width="0.7"/><polygon points="272.3,56.6 341.6,38.6 341.6,224.3 272.4,206.3" fill="url(#dDarkL)" stroke="#2b2326" stroke-width="1.1" stroke-linejoin="round"/><polygon points="341.6,38.6 344.8,39.2 344.8,224.6 341.6,224.3" fill="#525b78" stroke="#2e3346" stroke-width="0.8"/><path d="M333.6,132.3 H328 V133.6 H317 V136.4 H328 V137.4 H333.6 Z" fill="#cfc9cb" stroke="#3a3033" stroke-width="0.8"/></g><g><path d="M346,107 C341,106 337,107 334,109.5 C333,111 334,112.5 336,113 C335,115 336.5,117 339,117.5 C341,118.5 343.5,118.5 346,118 Z" fill="#e2eef8" stroke="#4f7fae" stroke-width="0.9"/><path d="M336,113 L341,112.5 M338,110 L343,110" fill="none" stroke="#4f7fae" stroke-width="0.6"/></g><g transform="translate(1088,0) scale(-1,1)"><path d="M346,107 C341,106 337,107 334,109.5 C333,111 334,112.5 336,113 C335,115 336.5,117 339,117.5 C341,118.5 343.5,118.5 346,118 Z" fill="#e2eef8" stroke="#4f7fae" stroke-width="0.9"/><path d="M336,113 L341,112.5 M338,110 L343,110" fill="none" stroke="#4f7fae" stroke-width="0.6"/></g><rect x="519.5" y="57.8" width="92.4" height="148" fill="#fff"/><path d="M612.4,206.3 V57.3 H519.5 V206.3" fill="none" stroke="#2a2a2a" stroke-width="1.2"/><polygon points="523.8,57.5 590.6,75.7 590.6,188.3 523.8,206.4" fill="url(#d3)" stroke="#2b2326" stroke-width="1.1" stroke-linejoin="round"/><rect x="521" y="57.5" width="2.9" height="149" fill="#3e3236" stroke="#2a2226" stroke-width="0.6"/><path d="M586.7,126.4 H581.6 V127.6 H570.2 V131 H581.6 V132.6 H586.7 Z" fill="#cfc9cb" stroke="#3a3033" stroke-width="0.8"/>
<polygon points="101.1,245.2 120.7,245.2 120.7,282.6 131.3,282.6 110.9,302.8 90.5,282.6 101.1,282.6" fill="#1a5fa0" stroke="#164f86" stroke-width="0.6" stroke-linejoin="miter"/><text x="0" y="0" transform="translate(117.2,271) rotate(-90) scale(1,1.12)" font-family="Liberation Sans" font-size="15.5" fill="#fff" text-anchor="middle">PANIC</text><polygon points="331.1,246.3 350.7,246.3 350.7,284.4 361.3,284.4 340.9,304.2 320.5,284.4 331.1,284.4" fill="#1a5fa0" stroke="#164f86" stroke-width="0.6" stroke-linejoin="miter"/><text x="0" y="0" transform="translate(347.2,272.25) rotate(-90) scale(1,1.12)" font-family="Liberation Sans" font-size="15.5" fill="#fff" text-anchor="middle">PANIC</text><polygon points="572.2,247 591.8,247 591.8,284.2 602.4,284.2 582,303.7 561.6,284.2 572.2,284.2" fill="#1a5fa0" stroke="#164f86" stroke-width="0.6" stroke-linejoin="miter"/><text x="0" y="0" transform="translate(588.3,272.35) rotate(-90) scale(1,1.12)" font-family="Liberation Sans" font-size="15.5" fill="#fff" text-anchor="middle">PANIC</text><polygon points="747.2,247 766.8,247 766.8,284.5 777.4,284.5 757,303.9 736.6,284.5 747.2,284.5" fill="#1a5fa0" stroke="#164f86" stroke-width="0.6" stroke-linejoin="miter"/><text x="0" y="0" transform="translate(763.3,272.45) rotate(-90) scale(1,1.12)" font-family="Liberation Sans" font-size="15.5" fill="#fff" text-anchor="middle">PANIC</text>
<path d="M26.8,374 H77.7 V381.4 H81.6 V388.9 H26.8 Z" fill="#efefef" stroke="none"/><path d="M26.8,374 H77.7" stroke="#6a6a6a" stroke-width="1.4"/><path d="M26.8,388.9 H81.6" stroke="#6a6a6a" stroke-width="1.4"/><path d="M77.7,374 V381.4 H81.6 V388.9" fill="none" stroke="#222" stroke-width="1.1"/><path d="M178.9,374 H284.7 V381.5 H280.7 V388.6 H175 V381.5 H178.9 Z" fill="#efefef" stroke="#555" stroke-width="1.2" stroke-linejoin="miter"/><path d="M433,374 H378.6 V381.4 H382.5 V389 H433 Z" fill="#efefef" stroke="none"/><path d="M378.6,374 H433" stroke="#6a6a6a" stroke-width="1.4"/><path d="M382.5,389 H433" stroke="#6a6a6a" stroke-width="1.4"/><path d="M378.6,374 V381.4 H382.5 V389" fill="none" stroke="#222" stroke-width="1.1"/><line x1="82" y1="381.5" x2="175" y2="381.5" stroke="#222" stroke-width="1" stroke-dasharray="3.3 2.2"/><line x1="285" y1="381.5" x2="378.6" y2="381.5" stroke="#222" stroke-width="1" stroke-dasharray="3.3 2.2"/><path d="M452.3,374 H503.2 V381.4 H507.1 V388.9 H452.3 Z" fill="#efefef" stroke="none"/><path d="M452.3,374 H503.2" stroke="#6a6a6a" stroke-width="1.4"/><path d="M452.3,388.9 H507.1" stroke="#6a6a6a" stroke-width="1.4"/><path d="M503.2,374 V381.4 H507.1 V388.9" fill="none" stroke="#222" stroke-width="1.1"/><path d="M604.4,374 H710.2 V381.5 H706.2 V388.6 H600.5 V381.5 H604.4 Z" fill="#efefef" stroke="#555" stroke-width="1.2" stroke-linejoin="miter"/><path d="M858.5,374 H804.1 V381.4 H808 V389 H858.5 Z" fill="#efefef" stroke="none"/><path d="M804.1,374 H858.5" stroke="#6a6a6a" stroke-width="1.4"/><path d="M808,389 H858.5" stroke="#6a6a6a" stroke-width="1.4"/><path d="M804.1,374 V381.4 H808 V389" fill="none" stroke="#222" stroke-width="1.1"/><line x1="507.5" y1="381.5" x2="600.5" y2="381.5" stroke="#222" stroke-width="1" stroke-dasharray="3.3 2.2"/><line x1="710.5" y1="381.5" x2="804.1" y2="381.5" stroke="#222" stroke-width="1" stroke-dasharray="3.3 2.2"/><polygon points="103.08,312.31 174.88,377.51 178.72,373.29 106.92,308.09" fill="url(#lf1)" stroke="#2a2024" stroke-width="1.1" stroke-linejoin="miter"/><rect x="102.3" y="322.19" width="14.5" height="3.2" rx="1.4" transform="rotate(42.24 109.55 323.79)" fill="#ececec" stroke="#8a8a8a" stroke-width="0.8"/><rect x="111.71" y="311.82" width="14.5" height="3.2" rx="1.4" transform="rotate(42.24 118.96 313.42)" fill="#ececec" stroke="#8a8a8a" stroke-width="0.8"/><circle cx="179.6" cy="372.3" r="2" fill="#fff" stroke="#333" stroke-width="0.8"/><polygon points="356.53,450.41 285.23,384.51 281.37,388.69 352.67,454.59" fill="url(#lf2)" stroke="#2a2024" stroke-width="1.1" stroke-linejoin="miter"/><rect x="342.92" y="437.28" width="14.5" height="3.2" rx="1.4" transform="rotate(-137.25 350.17 438.88)" fill="#ececec" stroke="#8a8a8a" stroke-width="0.8"/><rect x="333.42" y="447.56" width="14.5" height="3.2" rx="1.4" transform="rotate(-137.25 340.67 449.16)" fill="#ececec" stroke="#8a8a8a" stroke-width="0.8"/><circle cx="280.1" cy="390.6" r="2" fill="#fff" stroke="#333" stroke-width="0.8"/><polygon points="575.37,308.2 503.67,374.1 507.53,378.3 579.23,312.4" fill="url(#lf3)" stroke="#2a2024" stroke-width="1.1" stroke-linejoin="miter"/><rect x="556.11" y="312" width="14.5" height="3.2" rx="1.4" transform="rotate(137.41 563.36 313.6)" fill="#ececec" stroke="#8a8a8a" stroke-width="0.8"/><rect x="565.58" y="322.31" width="14.5" height="3.2" rx="1.4" transform="rotate(137.41 572.83 323.91)" fill="#ececec" stroke="#8a8a8a" stroke-width="0.8"/><circle cx="502.4" cy="372.5" r="2" fill="#fff" stroke="#333" stroke-width="0.8"/><polygon points="735.33,454.59 806.63,388.69 802.77,384.51 731.47,450.41" fill="url(#lf4)" stroke="#2a2024" stroke-width="1.1" stroke-linejoin="miter"/><rect x="740.08" y="447.56" width="14.5" height="3.2" rx="1.4" transform="rotate(-42.75 747.33 449.16)" fill="#ececec" stroke="#8a8a8a" stroke-width="0.8"/><rect x="730.58" y="437.28" width="14.5" height="3.2" rx="1.4" transform="rotate(-42.75 737.83 438.88)" fill="#ececec" stroke="#8a8a8a" stroke-width="0.8"/><circle cx="808.5" cy="390.6" r="2" fill="#fff" stroke="#333" stroke-width="0.8"/><path d="M90,376 Q97,357 109.4,345.8" fill="none" stroke="url(#ca5)" stroke-width="5"/><polygon points="121.7,334.3 104.1,340.8 114.6,350.9" fill="url(#ch5)"/><path d="M370.7,387.4 Q369,408 353.7,419.8" fill="none" stroke="url(#ca6)" stroke-width="5"/><polygon points="341.6,431.2 348.5,415.2 358.7,424.4" fill="url(#ch6)"/><path d="M594.3,376 Q587.3,357 574.9,345.8" fill="none" stroke="url(#ca7)" stroke-width="5"/><polygon points="562.6,334.3 580.2,340.8 569.7,350.9" fill="url(#ch7)"/><path d="M720.5,387.4 Q722.2,408 737.5,419.8" fill="none" stroke="url(#ca8)" stroke-width="5"/><polygon points="749.6,431.2 742.7,415.2 732.5,424.4" fill="url(#ch8)"/>
<text transform="translate(143.2,327.6) scale(1.11,1)" font-family="Liberation Sans" font-size="18.7"  fill="#215674">Dovnitř</text><text transform="translate(26.3,418.8) scale(1.115,1)" font-family="Liberation Sans" font-size="18.6" font-weight="bold" fill="#1a4b70">Levé dveře</text><text transform="translate(202,453) scale(1.11,1)" font-family="Liberation Sans" font-size="18.7"  fill="#215674">Ven otevírané</text><text transform="translate(475.2,328.6) scale(1.11,1)" font-family="Liberation Sans" font-size="18.7"  fill="#215674">Dovnitř</text><text transform="translate(452.3,418.7) scale(1.115,1)" font-family="Liberation Sans" font-size="18.6" font-weight="bold" fill="#1a4b70">Pravé dveře</text><text transform="translate(777.8,431.9) scale(1.11,1)" font-family="Liberation Sans" font-size="18.7"  fill="#215674">Ven</text><text transform="translate(777.3,453) scale(1.11,1)" font-family="Liberation Sans" font-size="18.7"  fill="#215674">otevírané</text>
<rect x="16.2" y="20" width="853.1" height="446.3" fill="none" stroke="#1c4e74" stroke-width="2.2"/>
</svg>
</body></html>
